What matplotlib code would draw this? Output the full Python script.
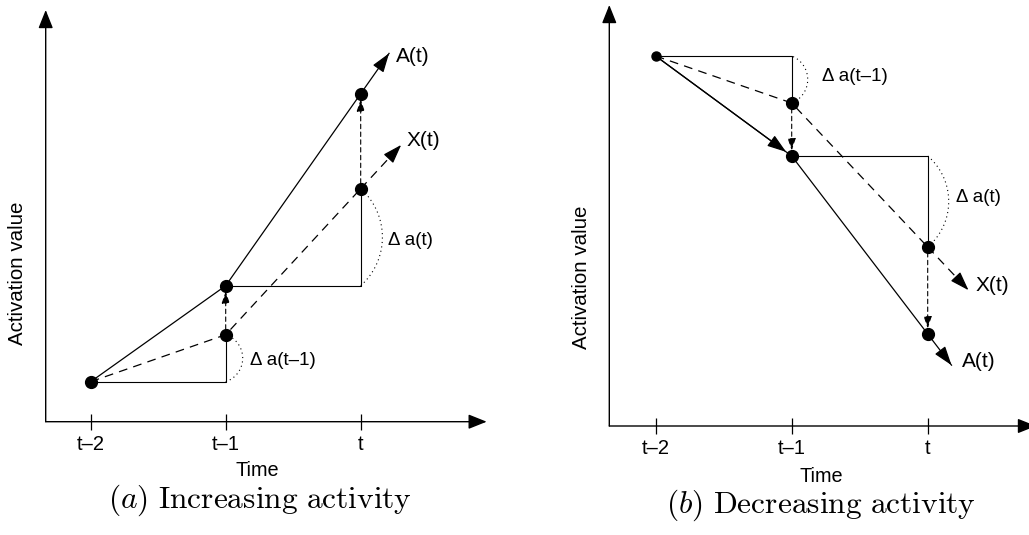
import numpy as np
import matplotlib
matplotlib.use("Agg")
import matplotlib.pyplot as plt

plt.rcParams["font.family"] = ["Liberation Sans", "DejaVu Sans"]
plt.rcParams["mathtext.fontset"] = "cm"

# time steps t-2, t-1, t and the activation values
TIMES = [0, 1, 2]
TICK_LABELS = ["t–2", "t–1", "t"]

A_INC = [0.40, 1.36, 3.28]
X_INC = [0.40, 0.87, 2.33]
A_DEC = [3.70, 2.70, 0.92]
X_DEC = [3.70, 3.23, 1.79]

W, H = 1029, 535
PX_PER_T = [135.0, 136.0]
PX_PER_Y = 100.0
PT = 0.72  # points per pixel at dpi 100


def px_box(left, top, right, bottom):
    return [left / W, 1 - bottom / H, (right - left) / W, (bottom - top) / H]


def fig_xy(x, y):
    return x / W, 1 - y / H


def axis_arrows(ax):
    style = "-|>,head_length=0.75,head_width=0.3"
    for end in [(1, 0), (0, 1)]:
        ax.annotate("", xy=end, xytext=(0, 0), xycoords="axes fraction",
                    arrowprops=dict(arrowstyle=style, color="black", lw=1.0,
                                    shrinkA=0, shrinkB=0, mutation_scale=15),
                    annotation_clip=False)


def dotted_arc(ax, t, y0, y1, sag_px, sx):
    c = abs(y1 - y0) * PX_PER_Y
    r = (c ** 2 / 4 + sag_px ** 2) / (2 * sag_px)
    phi0 = np.arcsin(min(1.0, c / 2 / r))
    phi = np.linspace(-phi0, phi0, 80)
    dx = (r * np.cos(phi) - (r - sag_px)) / sx
    dy = r * np.sin(phi) / PX_PER_Y
    ax.plot(t + dx, (y0 + y1) / 2 + dy, color="black", lw=0.8,
            linestyle=(0, (1, 3)))


def head(ax, tip, base, lw=0.9, scale=18):
    ax.annotate("", xy=tip, xytext=base,
                arrowprops=dict(arrowstyle="-|>,head_length=0.65,head_width=0.22",
                                color="black", lw=lw, shrinkA=0, shrinkB=0,
                                mutation_scale=scale))


def draw_panel(ax, i, A, X, ext_a, ext_x, sags, delta_off, lbl_off, first_dot,
               first_arrow):
    sx = PX_PER_T[i]
    t = TIMES
    # solid A curve and dashed X curve
    ax.plot(t, A, color="black", lw=0.9, zorder=2)
    ax.plot(t, X, color="black", lw=0.9, linestyle=(0, (7, 5)), zorder=2)

    # extensions with arrow heads
    ta = t[2] + ext_a * (t[2] - t[1])
    ya = A[2] + ext_a * (A[2] - A[1])
    tx = t[2] + ext_x * (t[2] - t[1])
    yx = X[2] + ext_x * (X[2] - X[1])
    ax.plot([t[2], ta], [A[2], ya], color="black", lw=0.9)
    ax.plot([t[2], tx], [X[2], yx], color="black", lw=0.9, linestyle=(0, (7, 5)))
    head(ax, (ta, ya), (t[2] + 0.8 * (ta - t[2]), A[2] + 0.8 * (ya - A[2])))
    head(ax, (tx, yx), (t[2] + 0.8 * (tx - t[2]), X[2] + 0.8 * (yx - X[2])))

    if first_arrow:
        ax.annotate("", xy=(t[1], A[1]), xytext=(t[0], A[0]),
                    arrowprops=dict(arrowstyle="-|>,head_length=0.65,head_width=0.22",
                                    color="black", lw=0.9, shrinkA=0, shrinkB=5,
                                    mutation_scale=18))

    # delta constructions
    ax.plot([t[0], t[1], t[1]], [A[0], A[0], X[1]], color="black", lw=0.8)
    ax.plot([t[1], t[2], t[2]], [A[1], A[1], X[2]], color="black", lw=0.8)
    dotted_arc(ax, t[1], A[0], X[1], sags[0], sx)
    dotted_arc(ax, t[2], A[1], X[2], sags[1], sx)

    # dashed vertical arrows from X to A
    for k in (1, 2):
        ax.annotate("", xy=(t[k], A[k]), xytext=(t[k], X[k]),
                    arrowprops=dict(arrowstyle="-|>,head_length=0.6,head_width=0.2",
                                    color="black", lw=0.8, linestyle=(0, (4, 3)),
                                    shrinkA=4, shrinkB=4, mutation_scale=12))

    # dots
    ax.plot(t[0], A[0], "o", color="black", ms=first_dot, zorder=5)
    ax.plot(t[1:], A[1:], "o", color="black", ms=8.5, zorder=5)
    ax.plot(t[1:], X[1:], "o", color="black", ms=8.5, zorder=5)

    # labels
    ax.annotate("A(t)", xy=(ta, ya), xytext=(lbl_off[0][0] * PT, lbl_off[0][1] * PT),
                textcoords="offset points", ha="left", va="center", fontsize=15)
    ax.annotate("X(t)", xy=(tx, yx), xytext=(lbl_off[1][0] * PT, lbl_off[1][1] * PT),
                textcoords="offset points", ha="left", va="center", fontsize=15)
    for k, txt, (y0, y1) in [(0, "Δ a(t–1)", (A[0], X[1])), (1, "Δ a(t)", (A[1], X[2]))]:
        ax.annotate(txt, xy=(t[k + 1] + sags[k] / sx, (y0 + y1) / 2),
                    xytext=(delta_off[k][0] * PT, delta_off[k][1] * PT),
                    textcoords="offset points", ha="left", va="center", fontsize=13.5)

    ax.set_xticks(t)
    ax.set_xticklabels(TICK_LABELS, fontsize=14.5)
    ax.set_yticks([])
    ax.tick_params(axis="x", direction="inout", length=11, width=0.9, pad=4)
    ax.set_frame_on(False)
    axis_arrows(ax)


fig = plt.figure(figsize=(W / 100, H / 100), dpi=100)

# (a) increasing activity
ax1 = fig.add_axes(px_box(45.7, 10, 486.7, 421.7))
ax1.set_xlim((45.7 - 90.7) / 135, (486.7 - 90.7) / 135)
ax1.set_ylim(0, (421.7 - 10) / 100)
draw_panel(ax1, 0, A_INC, X_INC, 0.21, 0.30, (17, 21.7),
           [(7, -2), (6, -3)], [(7, -3), (5, 4)], 8.5, False)

# (b) decreasing activity
ax2 = fig.add_axes(px_box(609.3, 5, 1036, 426))
ax2.set_xlim((609.3 - 655.7) / 136, (1036 - 655.7) / 136)
ax2.set_ylim(0, (426 - 5) / 100)
draw_panel(ax2, 1, A_DEC, X_DEC, 0.175, 0.30, (16, 21),
           [(14, 3), (7, 4)], [(10, 4), (7, 5)], 6.5, True)

fig.text(*fig_xy(18, 273), "Activation value", rotation=90, ha="center", va="center",
         fontsize=14.8)
fig.text(*fig_xy(257, 470), "Time", ha="center", va="center", fontsize=14.3)
fig.text(*fig_xy(260, 500), r"$(a)\ \mathrm{Increasing\ activity}$", ha="center",
         va="center", fontsize=22.6)

fig.text(*fig_xy(581.7, 277), "Activation value", rotation=90, ha="center", va="center",
         fontsize=14.8)
fig.text(*fig_xy(821.7, 476), "Time", ha="center", va="center", fontsize=14.3)
fig.text(*fig_xy(820.7, 505), r"$(b)\ \mathrm{Decreasing\ activity}$", ha="center",
         va="center", fontsize=22.6)

fig.savefig("out.png", dpi=100)
